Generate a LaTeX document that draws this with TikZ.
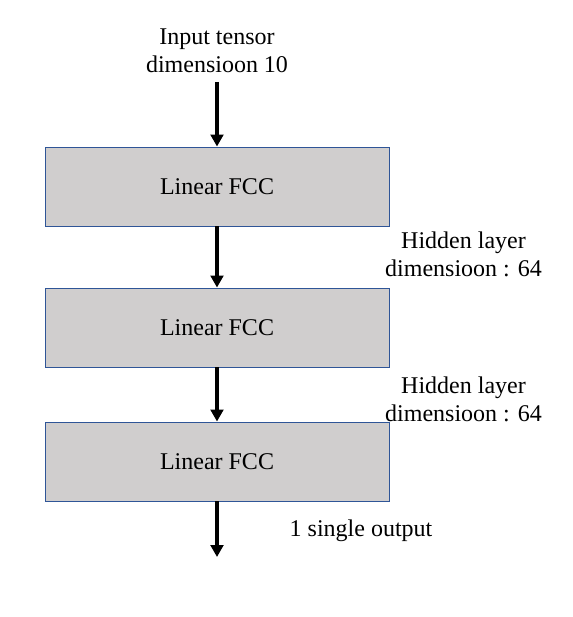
\documentclass[tikz,border=0pt]{standalone}
\usepackage{fontspec}
\setmainfont{Liberation Serif}
\usetikzlibrary{arrows.meta}
\usetikzlibrary{positioning}
\definecolor{boxgray}{HTML}{D0CECE}
\definecolor{boxblue}{HTML}{2F5597}
\tikzset{
    layer/.style={draw=boxblue,line width=0.7pt,fill=boxgray,minimum width=258pt,minimum height=59.25pt,inner sep=0pt},
    lbl/.style={align=center,inner sep=0pt},
    flow/.style={line width=2.9pt,-{Triangle[width=9.5pt,length=9pt]}}
}

\begin{document}
\begin{tikzpicture}[x=0.75pt,y=-0.75pt,font=\fontsize{18}{20.7}\selectfont]
		\useasboundingbox (0,0) rectangle (573,617);

		\node[lbl] (in) at (217,51) {Input tensor\\dimensioon 10};
		\coordinate (inb) at (217,82);
		\node[layer] (l1) at (217,186.5) {Linear FCC};
		\node[layer] (l2) at (217,327.5) {Linear FCC};
		\node[layer] (l3) at (217,461.5) {Linear FCC};
		\coordinate (out) at (217,557);

		\node[lbl] (h1) at (463.5,254.5) {Hidden layer\\dimensioon : 64};
		\node[lbl] (h2) at (463.5,399.5) {Hidden layer\\dimensioon : 64};
		\node[lbl] (o) at (361,531) {1 single output};

		\draw[flow] (inb) -- (l1.north);
		\draw[flow] (l1) -- (l2);
		\draw[flow] (l2) -- (l3);
		\draw[flow] (l3) -- (out);
	\end{tikzpicture}
\end{document}
